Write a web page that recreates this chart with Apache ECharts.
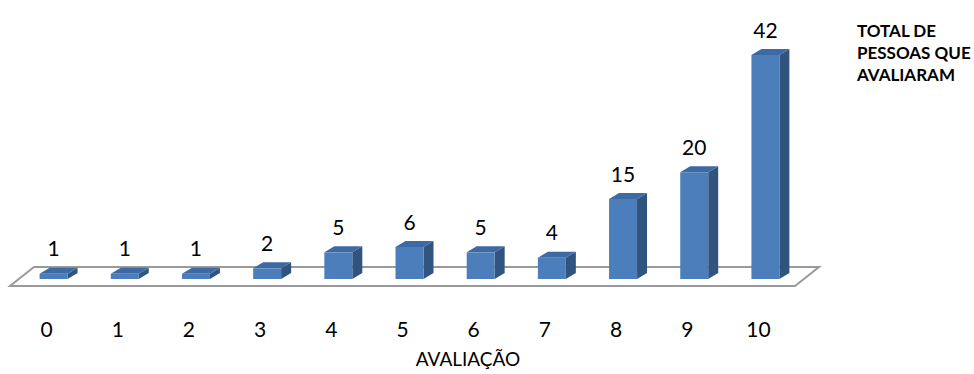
<!DOCTYPE html>
<html>
<head>
<meta charset="utf-8">
<script src="https://cdn.jsdelivr.net/npm/echarts@6/dist/echarts.min.js"></script>
<style>html,body{margin:0;padding:0;background:#fff}#c{width:974px;height:374px}</style>
</head>
<body>
<div id="c"></div>
<script>
const categories = ['0','1','2','3','4','5','6','7','8','9','10'];
const values = [1, 1, 1, 2, 5, 6, 5, 4, 15, 20, 42];
const seriesName = 'TOTAL DE\nPESSOAS QUE\nAVALIARAM';
const axisTitle = 'AVALIAÇÃO';

const FONT = 'Lato, "Open Sans", "Liberation Sans", sans-serif';
const FRONT = '#4C7EBC', SIDE = '#31547F', TOP = '#3D6AA2';
const DX = 10, DY = -6;

const chart = echarts.init(document.getElementById('c'), null, {renderer: 'svg'});
chart.setOption({
  animation: false,
  backgroundColor: '#fff',
  title: {
    text: seriesName,
    left: 852, top: 14,
    textStyle: {fontFamily: FONT, fontWeight: 'bold', fontSize: 17, lineHeight: 22, color: '#000'}
  },
  grid: {left: 18, right: 173, top: 39, bottom: 95},
  xAxis: {
    type: 'category', data: categories,
    axisLine: {show: false}, axisTick: {show: false},
    axisLabel: {margin: 39, fontFamily: FONT, fontSize: 21, color: '#000', padding: [0, 14, 0, 0]},
    name: axisTitle, nameLocation: 'middle', nameGap: 70,
    nameTextStyle: {fontFamily: FONT, fontSize: 19, color: '#000', padding: [0, 0, 0, 117]}
  },
  yAxis: {type: 'value', min: 0, max: 45, show: false, splitLine: {show: false}},
  series: [
    {
      type: 'custom', name: 'floor', z: 1, silent: true,
      data: [[0, 0]],
      renderItem: function (params, api) {
        const left = api.coord([0, 0]);
        const right = api.coord([categories.length - 1, 0]);
        const band = api.size([1, 0])[0];
        const x0 = left[0] - band / 2 - 8, x1 = right[0] + band / 2 - 6;
        const yf = left[1] + 7;
        const fx = 24, fy = -19;
        return {
          type: 'polygon',
          shape: {points: [[x0, yf], [x1, yf], [x1 + fx, yf + fy], [x0 + fx, yf + fy]]},
          style: {fill: '#fff', stroke: '#9a9a9a', lineWidth: 2}
        };
      }
    },
    {
      type: 'custom', name: seriesName, z: 2,
      data: values.map((v, i) => [i, v]),
      renderItem: function (params, api) {
        const i = api.value(0), v = api.value(1);
        const top = api.coord([i, v]);
        const base = api.coord([i, 0]);
        const w = api.size([1, 0])[0] * 0.393;
        const xl = top[0] - w / 2, xr = top[0] + w / 2;
        const yt = top[1], yb = base[1];
        return {
          type: 'group',
          children: [
            {type: 'polygon', shape: {points: [[xr, yt], [xr + DX, yt + DY], [xr + DX, yb + DY], [xr, yb]]}, style: {fill: SIDE}},
            {type: 'polygon', shape: {points: [[xl, yt], [xr, yt], [xr + DX, yt + DY], [xl + DX, yt + DY]]}, style: {fill: TOP}},
            {type: 'rect', shape: {x: xl, y: yt, width: w, height: yb - yt}, style: {fill: FRONT}},
            {type: 'text', x: top[0], y: yt - 26, style: {text: String(v), fontFamily: FONT, fontSize: 21, fill: '#000', align: 'center', verticalAlign: 'middle'}}
          ]
        };
      }
    }
  ]
});
</script>
</body>
</html>
